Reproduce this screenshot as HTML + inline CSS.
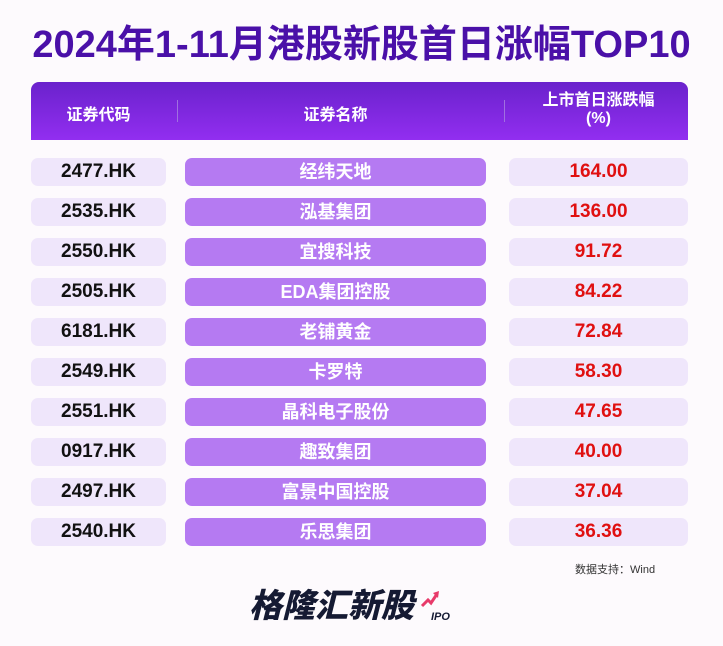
<!DOCTYPE html>
<html><head><meta charset="utf-8"><style>
body{margin:0;width:723px;height:646px;background:#fdfafd;position:relative;overflow:hidden;font-family:"Liberation Sans","Noto Sans CJK SC",sans-serif}
.t{position:absolute;left:0;width:723px;top:18px;text-align:center;font-size:38px;font-weight:bold;color:#4a10a8;letter-spacing:0px;line-height:54px}
.hd{position:absolute;left:31px;top:82px;width:657px;height:58px;background:linear-gradient(#6a22cc,#922ef0);border-radius:8px 8px 0 0;color:#fff;font-weight:bold;font-size:16px}
.hd div{position:absolute;text-align:center}
.sep{position:absolute;top:18px;width:1px;height:22px;background:#a070e0}
.c{position:absolute;height:28px;line-height:28px;text-align:center;font-weight:bold;font-size:19px;border-radius:7px}
.a{left:31px;width:135px;background:#efe6fb;color:#111}
.b{left:185px;width:301px;background:#b57af2;color:#fff;font-size:18px}
.d{left:509px;width:179px;background:#efe6fb;color:#e01010}
</style></head><body>
<div class="t">2024年1-11月港股新股首日涨幅TOP10</div>
<div class="hd">
<div style="left:0;width:135px;top:19px">证券代码</div>
<div class="sep" style="left:146px"></div>
<div style="left:154px;width:301px;top:19px">证券名称</div>
<div class="sep" style="left:473px"></div>
<div style="left:478px;width:179px;top:10px;line-height:18px">上市首日涨跌幅<br>(%)</div>
</div>
<div class="c a" style="top:158px">2477.HK</div><div class="c b" style="top:158px">经纬天地</div><div class="c d" style="top:158px">164.00</div>
<div class="c a" style="top:198px">2535.HK</div><div class="c b" style="top:198px">泓基集团</div><div class="c d" style="top:198px">136.00</div>
<div class="c a" style="top:238px">2550.HK</div><div class="c b" style="top:238px">宜搜科技</div><div class="c d" style="top:238px">91.72</div>
<div class="c a" style="top:278px">2505.HK</div><div class="c b" style="top:278px">EDA集团控股</div><div class="c d" style="top:278px">84.22</div>
<div class="c a" style="top:318px">6181.HK</div><div class="c b" style="top:318px">老铺黄金</div><div class="c d" style="top:318px">72.84</div>
<div class="c a" style="top:358px">2549.HK</div><div class="c b" style="top:358px">卡罗特</div><div class="c d" style="top:358px">58.30</div>
<div class="c a" style="top:398px">2551.HK</div><div class="c b" style="top:398px">晶科电子股份</div><div class="c d" style="top:398px">47.65</div>
<div class="c a" style="top:438px">0917.HK</div><div class="c b" style="top:438px">趣致集团</div><div class="c d" style="top:438px">40.00</div>
<div class="c a" style="top:478px">2497.HK</div><div class="c b" style="top:478px">富景中国控股</div><div class="c d" style="top:478px">37.04</div>
<div class="c a" style="top:518px">2540.HK</div><div class="c b" style="top:518px">乐思集团</div><div class="c d" style="top:518px">36.36</div>
<div style="position:absolute;left:575px;top:561px;font-size:11px;color:#333">数据支持：Wind</div>
<div style="position:absolute;left:249px;top:586px;font-size:33px;line-height:40px;font-weight:900;font-style:italic;color:#151a33;letter-spacing:0px">格隆汇新股</div>
<div style="position:absolute;left:431px;top:611px;font-size:11px;font-weight:900;font-style:italic;color:#151a33">IPO</div>
<svg style="position:absolute;left:420px;top:590px" width="20" height="18"><polyline points="2,16 8,10 11,13 17,4" fill="none" stroke="#e83a6a" stroke-width="3"/><polygon points="13,3 19,1 18,8" fill="#e83a6a"/></svg>
</body></html>
